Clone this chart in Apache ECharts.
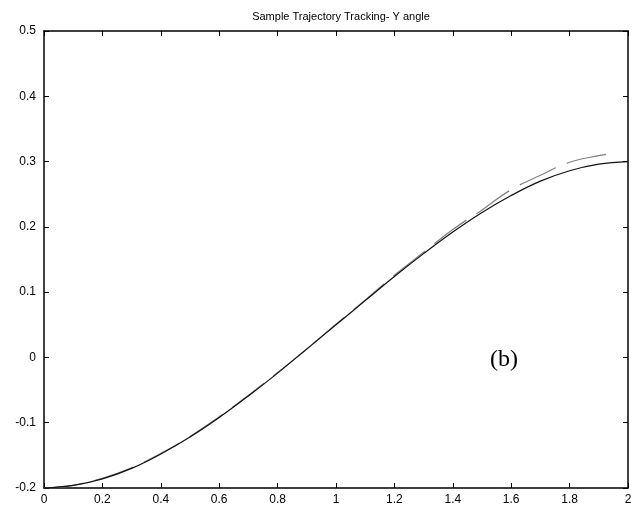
<!DOCTYPE html>
<html>
<head>
<meta charset="utf-8">
<script src="https://cdn.jsdelivr.net/npm/echarts@6/dist/echarts.min.js"></script>
<style>
  html, body { margin: 0; padding: 0; background: #fff; }
  #chart { width: 643px; height: 506px; }
</style>
</head>
<body>
<div id="chart"></div>
<script>
// time axis (s)
var timeDesired = [0, 0.1, 0.2, 0.3, 0.4, 0.5, 0.6, 0.7, 0.8, 0.9, 1.0, 1.1, 1.2, 1.3, 1.4, 1.5, 1.6, 1.7, 1.8, 1.9, 2.0]
// desired trajectory (solid)
var angleDesired = [-0.2, -0.196, -0.186, -0.170, -0.148, -0.122, -0.092, -0.059, -0.024, 0.013, 0.050, 0.087, 0.124, 0.159, 0.192, 0.222, 0.248, 0.270, 0.286, 0.296, 0.300]
// tracked trajectory (dashed)
var timeActual = [0, 0.1, 0.2, 0.3, 0.4, 0.5, 0.6, 0.7, 0.8, 0.9, 1.0, 1.1, 1.2, 1.3, 1.4, 1.5, 1.6, 1.7, 1.8, 1.9, 1.95]
var angleActual = [-0.2, -0.196, -0.185, -0.169, -0.147, -0.121, -0.091, -0.058, -0.023, 0.013, 0.051, 0.088, 0.126, 0.161, 0.196, 0.226, 0.257, 0.279, 0.299, 0.309, 0.313]

function pairs(xs, ys) {
  return xs.map(function (x, i) { return [x, ys[i]] })
}

var chart = echarts.init(document.getElementById('chart'))
var axisFont = { color: '#000', fontFamily: 'Liberation Sans, Arial, sans-serif', fontSize: 12 }
var boxLine = { show: true, onZero: false, lineStyle: { color: '#000', width: 1.5 } }
var inTicks = { show: true, inside: true, length: 5, lineStyle: { color: '#000' } }
var option = {
  animation: false,
  title: {
    text: 'Sample Trajectory Tracking- Y angle',
    left: 336,
    textAlign: 'center',
    top: 6,
    textStyle: { color: '#000', fontWeight: 'normal', fontSize: 11, fontFamily: 'Liberation Sans, Arial, sans-serif' }
  },
  grid: { left: 44, right: 15, top: 31, bottom: 14 },
  xAxis: [{
    type: 'value', min: 0, max: 2, interval: 0.2,
    axisLine: boxLine,
    axisTick: inTicks,
    axisLabel: Object.assign({ margin: 6 }, axisFont),
    splitLine: { show: false }
  }, {
    type: 'value', min: 0, max: 2, interval: 0.2, position: 'top',
    axisLine: boxLine,
    axisTick: inTicks,
    axisLabel: { show: false },
    splitLine: { show: false }
  }],
  yAxis: [{
    type: 'value', min: -0.2, max: 0.5, interval: 0.1,
    axisLine: boxLine,
    axisTick: inTicks,
    axisLabel: Object.assign({ margin: 8 }, axisFont),
    splitLine: { show: false }
  }, {
    type: 'value', min: -0.2, max: 0.5, interval: 0.1, position: 'right',
    axisLine: boxLine,
    axisTick: inTicks,
    axisLabel: { show: false },
    splitLine: { show: false }
  }],
  graphic: [{
    type: 'text',
    left: 490,
    top: 348,
    style: { text: '(b)', fill: '#000', font: '24px "Liberation Serif", "Times New Roman", serif' }
  }],
  series: [{
    name: 'actual',
    type: 'line',
    data: pairs(timeActual, angleActual),
    smooth: 0.4,
    showSymbol: false,
    lineStyle: { color: '#808080', width: 1.2, type: [40, 12] },
    z: 2
  }, {
    name: 'desired',
    type: 'line',
    data: pairs(timeDesired, angleDesired),
    smooth: 0.4,
    showSymbol: false,
    lineStyle: { color: '#111', width: 1.2 },
    z: 3
  }]
}
chart.setOption(option)
</script>
</body>
</html>
